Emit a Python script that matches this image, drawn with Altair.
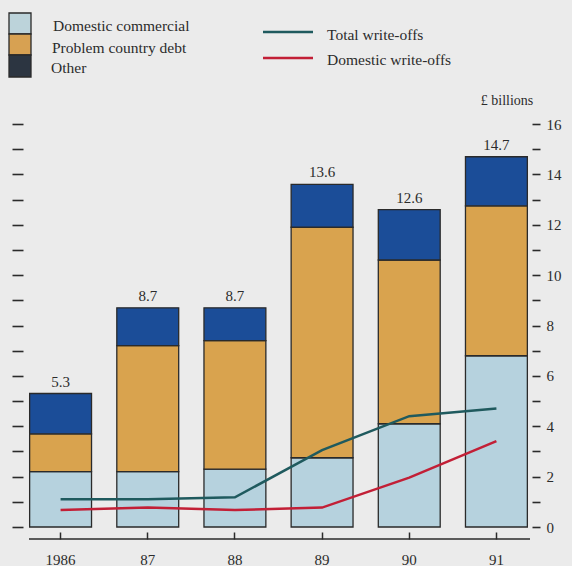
import altair as alt
import pandas as pd

years = ["1986", "87", "88", "89", "90", "91"]
domestic_commercial = [2.2, 2.2, 2.3, 2.75, 4.1, 6.8]
problem_country_debt = [1.5, 5.0, 5.1, 9.15, 6.5, 5.95]
other = [1.6, 1.5, 1.3, 1.7, 2.0, 1.95]
totals = [5.3, 8.7, 8.7, 13.6, 12.6, 14.7]
total_writeoffs = [1.1, 1.1, 1.18, 3.05, 4.4, 4.7]
domestic_writeoffs = [0.67, 0.77, 0.67, 0.77, 1.96, 3.41]
segments = ["Domestic commercial", "Problem country debt", "Other"]
line_series = ["Total write-offs", "Domestic write-offs"]
y_ticks = list(range(0, 17))

SERIF = "Liberation Serif"
TXT = "#2b2b2b"
seg_colors = ["#b6d2de", "#d9a34e", "#1b4d98"]
legend_colors = ["#bcd3da", "#d7a152", "#2c3541"]
line_colors = ["#1f5a5e", "#c21f36"]

rows = []
for i, yr in enumerate(years):
    base = 0.0
    for seg, vals in zip(segments, [domestic_commercial, problem_country_debt, other]):
        rows.append({"year": yr, "segment": seg, "start": base, "end": base + vals[i]})
        base += vals[i]
bars_df = pd.DataFrame(rows)

lines_df = pd.DataFrame(
    [{"year": yr, "series": line_series[0], "value": v} for yr, v in zip(years, total_writeoffs)]
    + [{"year": yr, "series": line_series[1], "value": v} for yr, v in zip(years, domestic_writeoffs)]
)
tot_df = pd.DataFrame({"year": years, "total": totals, "label": [f"{t:.1f}" for t in totals]})

W, H = 523, 403
xscale = alt.Scale(domain=years, paddingInner=0.29, paddingOuter=0.145)
yscale = alt.Scale(domain=[0, 16], nice=False)

xaxis = alt.Axis(orient="bottom", domain=False, tickSize=7, offset=5, tickWidth=1.5,
                 tickColor=TXT, labelPadding=13, labelFont=SERIF, labelFontSize=15,
                 labelColor=TXT, labelAngle=0, title=None, grid=False)

bars = alt.Chart(bars_df).mark_bar(stroke="#2a2a2a", strokeWidth=1.3).encode(
    x=alt.X("year:N", scale=xscale, axis=xaxis, sort=years),
    y=alt.Y("start:Q", scale=yscale,
            axis=alt.Axis(orient="left", values=y_ticks, labels=False, domain=False,
                          tickSize=11, offset=-6, tickWidth=1.6, tickColor=TXT,
                          title=None, grid=False)),
    y2="end:Q",
    color=alt.Color("segment:N", scale=alt.Scale(domain=segments, range=seg_colors), legend=None),
)

lines = alt.Chart(lines_df).mark_line(strokeWidth=2.5).encode(
    x=alt.X("year:N", scale=xscale, sort=years, axis=xaxis),
    y=alt.Y("value:Q", scale=yscale,
            axis=alt.Axis(orient="right", values=y_ticks, domain=False, tickSize=8, offset=-8,
                          tickWidth=1.6, tickColor=TXT, labelPadding=6, labelFont=SERIF,
                          labelFontSize=15, labelColor=TXT,
                          labelExpr="datum.value % 2 == 0 ? datum.label : ''",
                          title=None, grid=False)),
    color=alt.Color("series:N", scale=alt.Scale(domain=line_series, range=line_colors), legend=None),
)

labels = alt.Chart(tot_df).mark_text(font=SERIF, fontSize=15, color=TXT, dy=-4, baseline="bottom").encode(
    x=alt.X("year:N", scale=xscale, sort=years, axis=xaxis),
    y=alt.Y("total:Q", scale=yscale, axis=None),
    text="label:N",
)

baseline = alt.Chart(pd.DataFrame({"k": [0]})).mark_rule(color=TXT, strokeWidth=1.5).encode(
    x=alt.value(12), x2=alt.value(513), y=alt.value(415)
)

layers = [bars, lines, labels, baseline]

# legend for bar segments (stacked swatch column)
sw_y = [(-111, -90), (-90, -69), (-69, -47)]
txt_pos = [(36, -93), (35, -71), (34, -51)]
for seg, col, (y1, y2), (tx, ty) in zip(segments, legend_colors, sw_y, txt_pos):
    d = pd.DataFrame({"label": [seg]})
    layers.append(alt.Chart(d).mark_rect(color=col, stroke="#2a2a2a", strokeWidth=1.3).encode(
        x=alt.value(-8), x2=alt.value(14), y=alt.value(y1), y2=alt.value(y2)))
    layers.append(alt.Chart(d).mark_text(font=SERIF, fontSize=15.5, color=TXT, align="left",
                                          baseline="alphabetic").encode(
        x=alt.value(tx), y=alt.value(ty), text="label:N"))

# legend for lines
for s, col, ly, ty in zip(line_series, line_colors, [-92, -66], [-84, -59]):
    d = pd.DataFrame({"label": [s]})
    layers.append(alt.Chart(d).mark_rule(color=col, strokeWidth=2.5).encode(
        x=alt.value(246), x2=alt.value(296), y=alt.value(ly)))
    layers.append(alt.Chart(d).mark_text(font=SERIF, fontSize=15.5, color=TXT, align="left",
                                          baseline="alphabetic").encode(
        x=alt.value(310), y=alt.value(ty), text="label:N"))

unit = pd.DataFrame({"label": ["£ billions"]})
layers.append(alt.Chart(unit).mark_text(font=SERIF, fontSize=14, color=TXT, align="center",
                                         baseline="alphabetic").encode(
    x=alt.value(490), y=alt.value(-19), text="label:N"))

chart = alt.layer(*layers).resolve_scale(y="independent", color="independent").properties(
    width=W, height=H,
    autosize=alt.AutoSizeParams(type="none"),
    padding={"left": 17, "top": 124, "right": 32, "bottom": 39},
    background="#ebebeb",
).configure_view(stroke=None)

chart.save("out.html", embed_options={"renderer": "svg", "actions": False})
